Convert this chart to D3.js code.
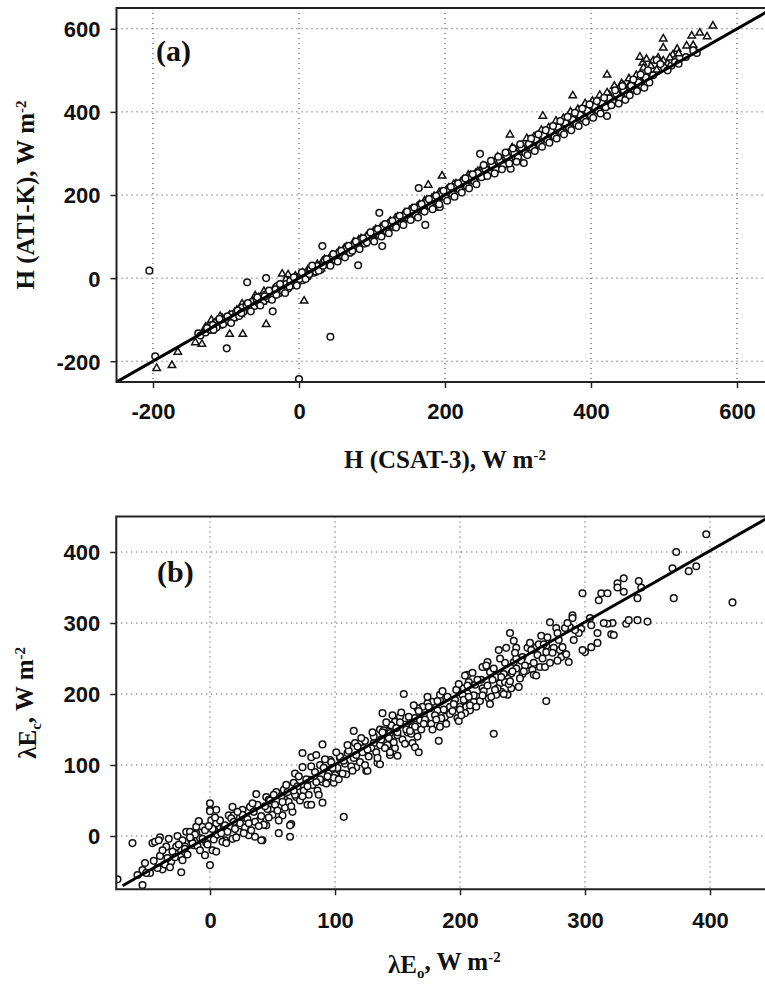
<!DOCTYPE html>
<html lang="en">
<head>
<meta http-equiv="Content-Type" content="text/html;charset=utf-8">
<title>H and lambdaE comparison</title>
<script src="https://cdn.jsdelivr.net/npm/d3@7/dist/d3.min.js"></script>
<style>
  body { margin: 0; background: #fff; }
  .tick text { font-family: "Liberation Sans", Arial, sans-serif; font-weight: bold; font-size: 22px; fill: #111; }
  .ttl { font-family: "Liberation Serif", "Times New Roman", serif; font-weight: bold; font-size: 25px; fill: #111; }
</style>
</head>
<body>
<script>

// ---- panel (a): H (ATI-K) vs H (CSAT-3) ----
var aTicks = [-200, 0, 200, 400, 600]
var aDomain = [-250, 650]
var aFit = [[-250, -250], [650, 650]]

// open circles
var aCircles = [
  [-205,18],[-197,-188],[0,-243],[-99,-169],[43,-141],[-71,-10],[-45,0],[-138,-133],[-30,-20],
  [-135,-138],[-128,-131],[-122,-124],[-118,-113],[-113,-119],[-108,-103],[-104,-111],[-100,-97],
  [-96,-103],[-92,-87],[-89,-95],[-86,-82],[-82,-91],[-78,-71],[-76,-81],[-72,-65],[-68,-75],
  [-64,-57],[-61,-67],[-58,-51],[-55,-61],[-52,-45],[-48,-55],[-45,-39],[-42,-49],[-38,-33],
  [-35,-43],[-32,-27],[-28,-37],[-25,-21],[-22,-31],[-18,-14],[-15,-25],[-12,-7],[-8,-17],
  [-5,-1],[-2,-11],[2,5],[5,-5],[-36,-80],
  [8,13],[12,4],[16,21],[20,13],[25,29],[30,21],[32,77],[35,41],[40,33],[45,51],[50,43],
  [55,61],[60,53],[65,71],[70,61],[75,81],[80,73],[81,31],[85,93],[90,83],[95,101],[100,93],
  [105,113],[110,103],[110,157],[114,77],[115,121],[120,113],[125,133],[130,123],[135,141],
  [140,133],[145,151],[150,144],[155,163],[160,151],[164,217],[165,171],[170,163],[173,128],
  [175,183],[180,173],[185,191],[190,183],[193,171],[195,203],[200,195],[205,213],[210,203],
  [215,221],[220,213],[225,233],[230,221],[235,243],[240,233],[245,253],[248,299],[250,243],
  [255,263],[260,253],[265,271],[270,261],[275,283],[280,271],[285,293],[290,263],[295,301],
  [300,291],[305,313],[308,277],[310,301],[315,323],[320,313],[325,333],[330,321],[335,343],
  [340,333],[345,353],[350,341],[355,363],[360,351],[365,373],[370,361],[375,381],[380,371],
  [385,393],[390,383],[395,403],[400,391],[405,413],[410,403],[415,421],[420,411],[422,390],
  [425,433],[430,423],[435,443],[440,433],[445,451],[447,429],[450,443],[455,463],[460,453],
  [465,471],[470,461],[475,483],[480,471],[490,525],[500,506],[510,511],[545,542],
  [-126,-120],[-117,-124],[-109,-98],[-98,-92],[-93,-108],[-84,-78],[-79,-84],[-70,-60],
  [-66,-80],[-57,-46],[-53,-66],[-47,-44],[-41,-30],[-37,-52],[-31,-40],[-26,-14],[-19,-36],
  [-13,-20],[-7,2],[-3,-18],[1,-2],[4,14],[9,-2],[14,10],[18,30],[23,16],[27,18],[33,30],
  [38,46],[43,30],[47,58],[53,40],[58,66],[63,50],[68,78],[73,66],[78,88],[83,70],[88,96],
  [93,86],[98,110],[103,88],[108,118],[113,100],[118,130],[123,108],[128,138],[133,122],
  [138,150],[143,128],[148,160],[153,140],[158,170],[163,146],[168,178],[172,160],[178,190],
  [183,166],[188,198],[192,178],[198,210],[203,186],[208,220],[213,196],[218,228],[223,206],
  [228,240],[233,216],[238,250],[243,226],[253,272],[258,246],[263,282],[268,252],[273,292],
  [278,262],[283,302],[288,276],[293,312],[298,280],[303,322],[313,296],[318,336],[323,306],
  [328,346],[333,316],[338,356],[343,326],[348,366],[353,336],[358,378],[363,346],[368,388],
  [373,356],[378,398],[383,366],[388,408],[393,376],[398,418],[403,386],[408,426],[413,396],
  [418,434],[428,416],[433,452],[438,420],[443,462],[453,440],[458,478],[463,450],[468,490],
  [473,458],[478,500],[485,488],[495,515],[505,500],[515,520],[520,516],[530,532],[540,548]
]

// open triangles
var aTriangles = [
  [-195,-217],[-174,-210],[-166,-178],[-142,-155],[-133,-159],[-95,-135],[-77,-135],[-45,-111],
  [7,-55],[-23,10],[-120,-101],[-60,-42],[-15,8],
  [-130,-127],[-125,-119],[-120,-127],[-115,-107],[-110,-115],[-105,-97],[-100,-107],[-95,-89],
  [-90,-97],[-85,-77],[-80,-87],[-75,-67],[-70,-77],[-65,-59],[-60,-65],[-55,-47],[-50,-57],
  [-45,-37],[-40,-47],[-35,-27],[-30,-37],[-25,-17],[-20,-27],[-15,-7],[-10,-17],[-5,5],[0,-7],
  [5,13],[10,3],[15,23],[20,13],[25,33],[30,23],[35,45],[40,33],[45,55],[50,43],[55,65],[60,53],
  [65,75],[70,63],[75,87],[80,73],[85,95],[90,83],[95,105],[100,93],[105,117],[110,103],[115,125],
  [120,113],[125,137],[130,123],[135,147],[140,133],[145,157],[150,143],[155,167],[160,153],
  [165,177],[170,163],[177,224],[175,187],[180,173],[185,197],[186,169],[190,183],[195,207],
  [196,246],[200,193],[205,217],[210,203],[215,227],[220,213],[225,237],[230,223],[235,247],
  [240,233],[245,257],[250,243],[255,267],[260,253],[265,279],[270,263],[275,287],[280,273],
  [285,299],[289,345],[290,283],[295,309],[300,293],[305,319],[310,303],[315,329],[320,313],
  [325,339],[330,323],[334,390],[335,349],[340,333],[345,359],[350,343],[355,369],[360,353],
  [365,379],[370,363],[375,439],[375,391],[380,373],[385,401],[390,383],[395,411],[400,393],
  [405,421],[410,403],[415,431],[420,413],[422,489],[425,441],[430,423],[435,453],[440,435],
  [445,463],[450,443],[455,471],[460,455],[465,481],[467,532],[470,465],[471,518],[476,527],
  [480,495],[485,523],[490,501],[499,576],[499,554],[499,523],[505,516],[512,537],[518,551],
  [531,559],[538,583],[549,590],[559,581],[567,607],
  [-128,-118],[-118,-112],[-108,-92],[-98,-96],[-88,-82],[-78,-62],[-68,-70],[-58,-52],
  [-48,-32],[-38,-40],[-28,-22],[-18,-4],[-8,-10],[2,8],[12,20],[22,22],[32,40],[42,48],
  [52,58],[62,72],[72,76],[82,92],[92,100],[102,112],[112,122],[122,130],[132,144],[142,150],
  [152,164],[162,172],[172,186],[182,192],[192,206],[202,212],[212,226],[222,232],[232,248],
  [242,252],[252,270],[262,274],[272,292],[282,296],[292,314],[302,318],[312,336],[322,340],
  [332,356],[342,362],[352,378],[362,384],[372,400],[382,406],[392,420],[402,426],[412,440],
  [422,446],[432,462],[442,468],[452,480],[462,488],[472,506],[482,510],[492,530],[508,530],
  [520,540],[540,560]
]

// ---- panel (b): lambda E_c vs lambda E_o ----
var bTicks = [0, 100, 200, 300, 400]
var bDomain = [-75, 450]
var bFit = [[-70, -70], [450, 452]]

var bCircles = [
  [-74,-61],[-62,-10],[-54,-69],[-52,-38],[-54,-48],[-58,-55],[-48,-52],[-46,-10],[-44,-8],
  [-40,-2],[-41,-6],[-38,-47],[-35,-15],[-33,-4],[-31,-36],[-28,-24],[-26,0],[-23,-51],
  [-24,-29],[-22,-6],[-20,-15],[-19,6],[-15,-6],[-13,-13],[-11,4],[-9,20],[-8,-3],[-4,-27],
  [-3,-10],[0,-41],[0,46],[0,37],[5,37],[2,-20],[5,-22],[1,22],[5,6],[8,13],[12,-6],[15,29],
  [18,41],[18,-4],[16,13],[23,6],[26,37],[31,1],[37,59],[36,-1],[42,-6],[40,23],[45,15],
  [45,55],[49,37],[55,4],[58,29],[64,-1],[65,17],[60,51],[59,65],[68,88],[69,55],[74,117],
  [78,44],[80,79],[81,111],[90,129],[90,76],[88,100],[94,93],[99,75],[100,86],[107,27],
  [109,87],[115,148],[116,131],[117,97],[125,92],[134,103],[138,173],[136,150],[131,131],
  [123,124],[110,117],[104,110],[96,107],[85,114],[74,97],[67,75],[53,62],[47,51],[32,41],
  [27,27],[19,29],[11,13],[5,18],[-6,13],[-11,13],[-16,6],[-27,-15],[-34,-31],[-42,-45],
  [-51,-52],[-9,21],[0,35],[81,44],[90,47],[64,15],[41,-6],[126,92],[146,170],
  [397,425],[373,400],[370,377],[383,373],[389,380],[371,335],[418,329],[298,342],[313,342],
  [318,342],[311,332],[326,356],[331,363],[326,350],[331,344],[343,359],[342,335],[345,350],
  [333,299],[335,304],[342,304],[350,302],[322,300],[318,299],[315,300],[321,284],[323,283],
  [310,286],[310,272],[305,266],[300,259],[298,262],[305,297],[304,307],[297,292],[290,311],
  [290,307],[272,301],[277,293],[288,294],[284,293],[265,282],[240,286],[243,275],[245,265],
  [237,265],[231,262],[254,265],[269,268],[275,265],[280,262],[284,256],[281,252],[278,247],
  [287,245],[262,255],[269,259],[261,266],[250,252],[249,247],[255,238],[253,233],[258,234],
  [264,238],[268,238],[250,228],[259,227],[243,245],[245,236],[241,229],[238,222],[235,228],
  [229,224],[222,245],[221,238],[218,238],[224,231],[226,220],[232,215],[236,217],[241,208],
  [238,199],[233,203],[229,199],[223,194],[218,208],[217,220],[269,190],[227,144],[155,200],
  [183,134],[206,227],[204,226],[207,217],[202,208],[206,201],[212,213],[214,196],[211,189],
  [204,192],[202,199],[198,206],[196,192],[200,182],[205,182],[208,177],[204,173],[198,166],
  [199,162],[192,182],[188,168],[184,192],[184,199],[178,189],[176,180],[182,177],[184,154],
  [174,187],[170,182],[166,180],[171,170],[164,166],[168,163],[174,159],[160,161],[156,166],
  [152,168],[148,161],[144,156],[139,149],[144,145],[150,142],[158,146],[162,154],[144,135],
  [148,124],[142,128],[150,113],[144,114],[162,131],[164,125],[167,118],[136,101],[139,145],
  [-45,-35],[-40,-28],[-36,-40],[-30,-22],[-28,-30],[-25,-12],[-20,-18],[-18,-26],[-14,-10],
  [-12,2],[-10,-14],[-6,-4],[-4,8],[-2,-12],[2,10],[3,-5],[6,2],[8,22],[10,-8],[12,15],[14,6],
  [17,25],[20,10],[21,-2],[24,18],[26,30],[28,12],[30,24],[33,8],[35,34],[36,20],[38,44],
  [41,28],[43,16],[46,38],[48,50],[50,30],[52,44],[55,22],[57,56],[60,40],[62,62],[63,48],
  [66,34],[68,58],[70,70],[72,50],[75,64],[77,80],[79,58],[82,72],[84,90],[86,64],[88,80],
  [91,96],[93,74],[95,88],[97,104],[99,82],[102,96],[104,112],[106,88],[108,102],[111,120],
  [113,98],[115,110],[118,126],[120,104],[122,118],[124,134],[127,112],[129,124],[131,140],
  [133,118],[136,128],[138,146],[140,124],[143,138],[145,156],[147,132],[150,146],[152,160],
  [154,136],[157,150],[159,168],[161,144],[164,154],[167,176],[169,150],[172,164],[175,182],
  [177,158],[180,170],[182,190],[185,166],[187,178],[190,196],[192,172],[195,186],[197,206],
  [200,178],[203,192],[206,212],[208,184],[211,198],[214,220],[216,190],[219,204],[222,212],
  [225,196],[227,236],[230,208],[233,224],[236,244],[239,214],[242,232],[245,250],[248,222],
  [252,240],[256,272],[259,244],[263,270],[266,250],[270,280],[274,258],[278,286],[282,266],
  [286,300],[291,276],[295,286],
  [-38,-20],[-32,-44],[-22,-34],[-16,-2],[-8,-20],[-1,14],[4,26],[9,4],[13,-10],[19,20],
  [22,34],[27,4],[31,18],[34,46],[39,14],[44,42],[47,26],[51,58],[54,36],[58,48],[61,72],
  [65,42],[67,64],[71,84],[74,56],[78,70],[81,98],[85,76],[87,58],[92,108],[94,84],[98,96],
  [101,118],[103,80],[107,106],[110,128],[114,92],[117,114],[121,138],[124,100],[126,122],
  [130,146],[134,110],[137,136],[141,160],[144,118],[149,152],[153,174],[156,130],[160,148],
  [163,184],[166,140],[171,158],[174,196],[178,150],[181,164],[186,204],[189,158],[194,176],
  [199,214],[201,170],[207,196],[210,230],[213,182],[218,198],[221,240],[224,186],[228,206],
  [232,250],[235,200],[240,218],[244,258],[247,210],[251,232],[257,262],[261,226],[267,270],
  [272,244],[279,276],[285,256],[292,290]
]

var svg = d3.select("body").append("svg")
  .attr("width", 765)
  .attr("height", 987)

// one panel: frame, dotted grid, 1:1 line, markers, axes, titles
function drawPanel(p) {
  var x = d3.scaleLinear().domain(p.domain).range([p.left, p.right])
  var y = d3.scaleLinear().domain(p.domain).range([p.bottom, p.top])
  var g = svg.append("g")

  var clipId = "clip-" + p.name
  g.append("clipPath").attr("id", clipId).append("rect")
    .attr("x", p.left).attr("y", p.top)
    .attr("width", p.right - p.left).attr("height", p.bottom - p.top)

  // grid
  g.selectAll(".gx").data(p.ticks).enter().append("line")
    .attr("x1", function(d){ return x(d) }).attr("x2", function(d){ return x(d) })
    .attr("y1", p.top).attr("y2", p.bottom)
    .attr("stroke", "#333").attr("stroke-width", 1).attr("stroke-dasharray", "1,4")
  g.selectAll(".gy").data(p.ticks).enter().append("line")
    .attr("y1", function(d){ return y(d) }).attr("y2", function(d){ return y(d) })
    .attr("x1", p.left).attr("x2", p.right)
    .attr("stroke", "#333").attr("stroke-width", 1).attr("stroke-dasharray", "1,4")

  var marks = g.append("g").attr("clip-path", "url(#" + clipId + ")")

  if (p.triangles) {
    marks.selectAll(".tri").data(p.triangles).enter().append("path")
      .attr("d", d3.symbol().type(d3.symbolTriangle).size(24))
      .attr("transform", function(d){ return "translate(" + x(d[0]) + "," + y(d[1]) + ")" })
      .attr("fill", "white").attr("stroke", "#111").attr("stroke-width", 1.5)
  }
  marks.selectAll(".dot").data(p.circles).enter().append("circle")
    .attr("cx", function(d){ return x(d[0]) })
    .attr("cy", function(d){ return y(d[1]) })
    .attr("r", 3.3)
    .attr("fill", "white").attr("stroke", "#111").attr("stroke-width", 1.5)

  marks.append("path")
    .attr("d", d3.line().x(function(d){ return x(d[0]) }).y(function(d){ return y(d[1]) })(p.fit))
    .attr("stroke", "#000").attr("stroke-width", 3).attr("fill", "none")

  // frame
  g.append("rect")
    .attr("x", p.left).attr("y", p.top)
    .attr("width", p.right - p.left).attr("height", p.bottom - p.top)
    .attr("fill", "none").attr("stroke", "#222").attr("stroke-width", 2)

  var fmt = function(d){ return String(d) }   // plain hyphen minus like the original
  var ax = g.append("g").attr("transform", "translate(0," + p.bottom + ")")
    .call(d3.axisBottom(x).tickValues(p.ticks).tickFormat(fmt).tickSize(6).tickPadding(p.xPad))
  var ay = g.append("g").attr("transform", "translate(" + p.left + ",0)")
    .call(d3.axisLeft(y).tickValues(p.ticks).tickFormat(fmt).tickSize(6).tickPadding(10))
  ax.select(".domain").remove()
  ay.select(".domain").remove()
  ax.selectAll("line").attr("stroke", "#222").attr("stroke-width", 1.5)
  ay.selectAll("line").attr("stroke", "#222").attr("stroke-width", 1.5)
  ay.selectAll("text").attr("dy", "0.36em")

  // panel letter
  g.append("text").attr("class", "ttl")
    .attr("x", p.letterX).attr("y", p.letterY)
    .style("font-size", "30px")
    .text(p.letter)

  // x title
  var xt = g.append("text").attr("class", "ttl")
    .attr("x", (p.left + p.right) / 2).attr("y", p.xTitleY)
    .attr("text-anchor", "middle")
  p.xTitle(xt)

  // y title
  var yt = g.append("text").attr("class", "ttl")
    .attr("transform", "translate(" + p.yTitleX + "," + ((p.top + p.bottom) / 2) + ") rotate(-90)")
    .attr("text-anchor", "middle")
  p.yTitle(yt)
}

function unitTail(t) {
  t.append("tspan").text(", W m")
  t.append("tspan").attr("dy", "-0.55em").style("font-size", "15px").text("-2")
}

function lambdaTitle(t, sub) {
  t.append("tspan").text("λE")
  t.append("tspan").attr("dy", "0.3em").style("font-size", "15px").text(sub)
  t.append("tspan").attr("dy", "-0.3em").text(", W m")
  t.append("tspan").attr("dy", "-0.55em").style("font-size", "15px").text("-2")
}

drawPanel({
  name: "a", domain: aDomain, ticks: aTicks, fit: aFit,
  circles: aCircles, triangles: aTriangles,
  left: 116.5, right: 773.5, top: 8, bottom: 382, xPad: 15,
  letter: "(a)", letterX: 156, letterY: 61,
  xTitleY: 468, yTitleX: 34,
  xTitle: function(t){ t.append("tspan").text("H (CSAT-3)"); unitTail(t) },
  yTitle: function(t){ t.append("tspan").text("H (ATI-K)"); unitTail(t) }
})

drawPanel({
  name: "b", domain: bDomain, ticks: bTicks, fit: bFit,
  circles: bCircles, triangles: null,
  left: 116.25, right: 772.5, top: 516.5, bottom: 889.25, xPad: 17,
  letter: "(b)", letterX: 157, letterY: 582,
  xTitleY: 973, yTitleX: 36,
  xTitle: function(t){ lambdaTitle(t, "o") },
  yTitle: function(t){ lambdaTitle(t, "c") }
})

</script>
</body>
</html>
